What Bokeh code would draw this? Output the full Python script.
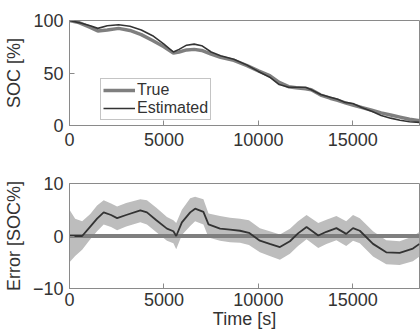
from bokeh.plotting import figure
from bokeh.models import Legend, LegendItem, FixedTicker, Range1d
from bokeh.layouts import column
from bokeh.embed import file_html
from bokeh.resources import INLINE

# ---- data ----
t_soc = [0, 500, 1100, 1500, 2000, 2600, 3200, 3800, 4400, 5000, 5500, 5800, 6200, 6600,
         7000, 7500, 8000, 8700, 9400, 10000, 10600, 11100, 11600, 12000, 12500, 12800,
         13300, 13800, 14200, 14600, 15000, 15500, 16000, 16500, 17000, 17500, 18000, 18530]
soc_true = [100, 98, 93.5, 90, 91, 92.5, 90.5, 86.5, 81, 75, 69, 70, 72, 72.5,
            71.5, 68, 65, 62, 57, 52, 47.5, 41, 37, 36, 35, 34,
            29, 26, 24, 21.5, 19.5, 17, 14.5, 12, 10, 8, 6, 4.5]
soc_est = [100, 98, 95, 92.5, 95, 96, 94.5, 91, 85.5, 77.5, 70, 72.5, 76.5, 77.5,
           76, 70, 66.5, 63, 57.5, 51.5, 46, 39, 36.5, 36.5, 36.5, 34,
           29.5, 27, 25, 22, 21, 17, 13.5, 9.5, 7, 5, 3.5, 3]

t_err = [0, 300, 670, 1100, 1460, 1810, 2200, 2520, 3000, 3750, 4100, 4600, 5160, 5500,
         5650, 5950, 6390, 6650, 7090, 7360, 7970, 8500, 9030, 9500, 10080, 10600, 11140,
         11670, 12100, 12550, 13170, 13600, 14130, 14650, 15010, 15370, 16070, 16770,
         17480, 18180, 18530]
err = [0, 0, 0, 1.8, 3.3, 4.5, 4.0, 3.4, 4.0, 4.9, 4.5, 3.0, 1.4, 0.9,
       0, 2.6, 4.5, 5.2, 4.6, 2.2, 1.4, 1.2, 1.0, 0.6, -0.9, -1.5, -2.1,
       -1.0, 0.5, 1.7, 0.1, 0.8, 1.5, 0.4, 1.5, 1.0, -1.5, -3.1,
       -3.2, -2.4, -1.5]
err_upper = [5, 3.3, 2.8, 4.2, 5.8, 6.8, 6.2, 5.6, 6.3, 7.0, 6.8, 5.4, 3.6, 3.0,
             2.5, 5.0, 7.2, 7.5, 7.0, 4.3, 3.8, 3.5, 3.3, 3.0, 1.5, 0.9, 0.3,
             1.4, 2.8, 4.0, 2.5, 3.1, 3.8, 2.8, 4.0, 3.4, 0.9, -0.8,
             -1.0, -0.1, 0.8]
err_lower = [-5, -3.8, -2.6, -0.6, 0.9, 2.2, 1.7, 1.1, 1.8, 2.6, 2.2, 0.7, -0.9, -1.4,
             -2.5, 0.2, 1.9, 2.8, 2.2, -0.3, -0.9, -1.2, -1.3, -1.7, -3.1, -3.8, -4.5,
             -3.4, -1.9, -0.6, -2.3, -1.5, -0.8, -1.9, -0.9, -1.4, -3.9, -5.4,
             -5.5, -4.8, -3.9]

x_ticks = [0, 5000, 10000, 15000]
soc_ticks = [0, 50, 100]
err_ticks = [-10, 0, 10]
zero_t = [0, 18530]
zero_v = [0, 0]

FONT = "Liberation Sans"
FS = "18px"
AXC = "#8a8a8a"
TXT = "#333333"


def style(p, yticks):
    p.outline_line_color = AXC
    p.xgrid.visible = False
    p.ygrid.visible = False
    for ax in p.xaxis + p.yaxis:
        ax.axis_line_color = AXC
        ax.major_tick_line_color = AXC
        ax.major_tick_in = 5
        ax.major_tick_out = 0
        ax.minor_tick_line_color = None
        ax.major_label_text_font = FONT
        ax.major_label_text_font_size = FS
        ax.major_label_text_color = TXT
        ax.axis_label_text_font = FONT
        ax.axis_label_text_font_size = FS
        ax.axis_label_text_font_style = "normal"
        ax.axis_label_text_color = TXT
    p.xaxis.ticker = FixedTicker(ticks=x_ticks)
    p.yaxis.ticker = FixedTicker(ticks=yticks)
    p.xaxis.major_label_standoff = 7
    p.yaxis.major_label_standoff = 6
    p.yaxis.axis_label_standoff = 6


# ---- top: SOC ----
p1 = figure(width=420, height=165, output_backend="svg", toolbar_location=None,
            x_range=Range1d(0, 18530), y_range=Range1d(0, 100),
            min_border_left=69, min_border_right=1, min_border_top=20, min_border_bottom=40)
r_true = p1.line(t_soc, soc_true, line_color="#7f7f7f", line_width=3.5)
r_est = p1.line(t_soc, soc_est, line_color="#333333", line_width=1.6)
p1.yaxis.axis_label = "SOC [%]"
style(p1, soc_ticks)
leg = Legend(items=[LegendItem(label="True", renderers=[r_true]),
                    LegendItem(label="Estimated", renderers=[r_est])],
             location=(31, 5), orientation="vertical",
             label_text_font=FONT, label_text_font_size="16px", label_text_color=TXT,
             glyph_width=32, glyph_height=16, label_standoff=2, padding=2, spacing=0,
             margin=0, border_line_color=AXC, background_fill_alpha=1,
             label_height=16)
p1.add_layout(leg)

# ---- bottom: Error ----
p2 = figure(width=420, height=169, output_backend="svg", toolbar_location=None,
            x_range=Range1d(0, 18530), y_range=Range1d(-10, 10),
            min_border_left=69, min_border_right=1, min_border_top=18, min_border_bottom=46)
p2.varea(x=t_err, y1=err_lower, y2=err_upper, fill_color="#bdbdbd", fill_alpha=1)
p2.line(zero_t, zero_v, line_color="#7f7f7f", line_width=4)
p2.line(t_err, err, line_color="#333333", line_width=1.8)
p2.yaxis.axis_label = "Error [SOC%]"
p2.xaxis.axis_label = "Time [s]"
style(p2, err_ticks)
p2.xaxis.major_label_standoff = 4
p2.xaxis.axis_label_standoff = 0

layout = column(p1, p2, spacing=0)
open("out.html", "w").write(file_html(layout, INLINE))
